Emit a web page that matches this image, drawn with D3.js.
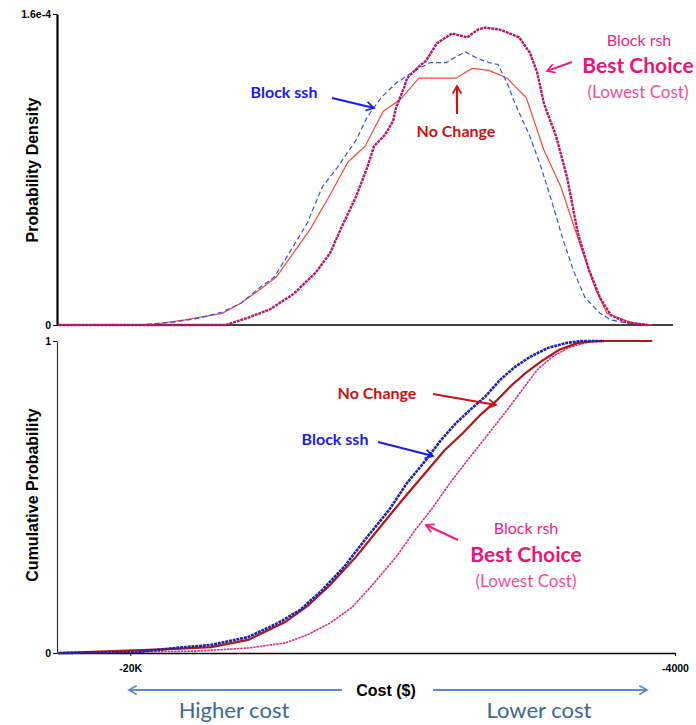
<!DOCTYPE html>
<html>
<head>
<meta charset="utf-8">
<script src="https://cdn.jsdelivr.net/npm/d3@7"></script>
<style>
  body { margin: 0; background: #fff; }
  svg { display: block; }
</style>
</head>
<body>
<div id="chart"></div>
<script>
// values: [cost ($), value]
var pdfRsh = [[-22100,0],[-19000,0],[-17200,0],[-16500,0.04e-4],[-15900,0.08e-4],[-15200,0.16e-4],
  [-14550,0.27e-4],[-14130,0.37e-4],[-13800,0.50e-4],[-13370,0.66e-4],[-13040,0.81e-4],[-12840,0.92e-4],
  [-12510,0.98e-4],[-12280,1.05e-4],[-12190,1.12e-4],[-11960,1.22e-4],[-11870,1.27e-4],[-11520,1.33e-4],
  [-11310,1.36e-4],[-10990,1.45e-4],[-10550,1.50e-4],[-10110,1.48e-4],[-9780,1.52e-4],[-9580,1.53e-4],
  [-9140,1.52e-4],[-8580,1.48e-4],[-8260,1.40e-4],[-8050,1.30e-4],[-7850,1.14e-4],[-7490,0.97e-4],
  [-7170,0.76e-4],[-6850,0.47e-4],[-6520,0.28e-4],[-6200,0.14e-4],[-5880,0.05e-4],[-5440,0.015e-4],[-4790,0]];

var pdfSsh = [[-22100,0],[-19800,0],[-18700,0.015e-4],[-17950,0.036e-4],[-17300,0.067e-4],[-16740,0.113e-4],
  [-16210,0.19e-4],[-15770,0.247e-4],[-15330,0.37e-4],[-14800,0.525e-4],[-14360,0.71e-4],[-13920,0.81e-4],
  [-13370,0.95e-4],[-13040,1.07e-4],[-12630,1.17e-4],[-12190,1.245e-4],[-11630,1.31e-4],[-11190,1.35e-4],
  [-10720,1.35e-4],[-10430,1.38e-4],[-10160,1.405e-4],[-9780,1.37e-4],[-9460,1.35e-4],[-9200,1.34e-4],
  [-8930,1.245e-4],[-8700,1.14e-4],[-8260,0.97e-4],[-7930,0.81e-4],[-7610,0.63e-4],[-7290,0.44e-4],
  [-6960,0.27e-4],[-6640,0.14e-4],[-6200,0.06e-4],[-5880,0.026e-4],[-5440,0.01e-4],[-4900,0]];

var pdfNoChange = [[-22100,0],[-19470,0],[-18390,0.026e-4],[-17300,0.06e-4],[-16740,0.113e-4],[-16210,0.18e-4],
  [-15710,0.247e-4],[-15210,0.37e-4],[-14690,0.50e-4],[-14130,0.67e-4],[-13600,0.84e-4],[-13100,0.92e-4],
  [-12570,1.10e-4],[-12070,1.16e-4],[-11520,1.27e-4],[-10430,1.27e-4],[-9960,1.32e-4],[-9460,1.31e-4],
  [-8930,1.27e-4],[-8370,1.17e-4],[-7850,0.90e-4],[-7350,0.71e-4],[-6760,0.40e-4],[-6320,0.18e-4],
  [-6000,0.06e-4],[-5640,0.036e-4],[-5230,0.01e-4],[-4670,0]];

var cdfSsh = [[-22100,0],[-19800,0.003],[-18700,0.016],[-17620,0.026],[-16540,0.051],[-15660,0.096],
  [-15010,0.138],[-14360,0.202],[-13720,0.276],[-13040,0.372],[-12400,0.458],[-11870,0.545],[-11310,0.619],
  [-10870,0.683],[-10430,0.737],[-10020,0.779],[-9580,0.821],[-9140,0.875],[-8700,0.917],[-8260,0.949],
  [-7730,0.978],[-7170,0.994],[-6760,1],[-6080,1]];

var cdfNoChange = [[-22100,0],[-18700,0.013],[-17620,0.019],[-16540,0.042],[-15450,0.099],[-14800,0.150],
  [-14130,0.218],[-13370,0.308],[-12630,0.408],[-11960,0.497],[-11310,0.580],[-10780,0.648],[-10220,0.706],
  [-9700,0.765],[-9250,0.808],[-8810,0.857],[-8370,0.899],[-7930,0.935],[-7400,0.972],[-6850,0.994],
  [-6320,1],[-5640,1],[-4670,1]];

var cdfRsh = [[-22100,0],[-18060,0.006],[-16540,0.016],[-15450,0.032],[-14800,0.058],[-14130,0.096],
  [-13480,0.147],[-12840,0.224],[-12190,0.308],[-11630,0.394],[-11100,0.468],[-10550,0.554],[-10020,0.628],
  [-9460,0.705],[-8930,0.779],[-8490,0.843],[-8050,0.907],[-7610,0.949],[-7080,0.981],[-6520,0.997],
  [-5880,1],[-4670,1]];

var xTicks = [-20000, -4000];
var xTickLabels = ["-20K", "-4000"];

var W = 696, H = 725;
var svg = d3.select("#chart").append("svg").attr("width", W).attr("height", H);

var defs = svg.append("defs");
function marker(id, color) {
  defs.append("marker")
    .attr("id", id)
    .attr("viewBox", "0 0 10 10")
    .attr("refX", 8).attr("refY", 5)
    .attr("markerWidth", 5).attr("markerHeight", 5)
    .attr("markerUnits", "strokeWidth")
    .attr("orient", "auto")
    .append("path")
      .attr("d", "M1,1 L8,5 L1,9")
      .attr("fill", "none")
      .attr("stroke", color)
      .attr("stroke-width", 1.6);
}
marker("arBlue", "#1a1af0");
marker("arRed", "#cc1111");
marker("arPink", "#ee1f80");
marker("arSteel", "#5b8cc8");

// x scale shared by both panels
var x = d3.scaleLinear().domain([-22150, -4000]).range([57, 675]);

// top panel: probability density
var yTop = d3.scaleLinear().domain([0, 1.6e-4]).range([325, 14]);
// bottom panel: cumulative probability
var yBot = d3.scaleLinear().domain([0, 1]).range([653, 341]);

var lineTop = d3.line().x(function(d) { return x(d[0]); }).y(function(d) { return yTop(d[1]); });
var lineBot = d3.line().x(function(d) { return x(d[0]); }).y(function(d) { return yBot(d[1]); });

var bold = "Liberation Sans, Arial, sans-serif";

// top axes
svg.append("g")
  .attr("transform", "translate(0,325)")
  .call(d3.axisBottom(x).tickValues([]).tickSizeOuter(0))
  .call(function(g) { g.select(".domain").attr("stroke", "#000").attr("stroke-width", 1.5)
    .attr("d", "M57,0H673"); });

svg.append("g")
  .attr("transform", "translate(57,0)")
  .call(d3.axisLeft(yTop).tickValues([0, 1.6e-4]).tickSize(4).tickSizeOuter(0).tickPadding(2)
    .tickFormat(function(d) { return d === 0 ? "0" : "1.6e-4"; }))
  .call(function(g) {
    g.select(".domain").attr("stroke", "#000").attr("stroke-width", 2.2);
    g.selectAll("text").attr("font-family", bold)
      .attr("font-weight", "bold").attr("font-size", 10.5).attr("fill", "#000");
  });

// bottom axes
svg.append("g")
  .attr("transform", "translate(0,653)")
  .call(d3.axisBottom(x).tickValues(xTicks).tickSize(3).tickSizeOuter(0).tickPadding(9)
    .tickFormat(function(d, i) { return xTickLabels[i]; }))
  .call(function(g) {
    g.select(".domain").attr("stroke", "#000").attr("stroke-width", 1.5);
    g.selectAll("text").attr("font-family", bold)
      .attr("font-weight", "bold").attr("font-size", 10.5).attr("fill", "#000");
  });

svg.append("g")
  .attr("transform", "translate(57,0)")
  .call(d3.axisLeft(yBot).tickValues([0, 1]).tickSize(4).tickSizeOuter(0).tickPadding(2)
    .tickFormat(d3.format("d")))
  .call(function(g) {
    g.select(".domain").attr("stroke", "#333").attr("stroke-width", 1.2);
    g.selectAll("text").attr("font-family", bold)
      .attr("font-weight", "bold").attr("font-size", 10.5).attr("fill", "#000");
  });

// density curves
svg.append("path").datum(pdfNoChange).attr("d", lineTop)
  .attr("fill", "none").attr("stroke", "#f04a3a").attr("stroke-width", 1.2);
svg.append("path").datum(pdfSsh).attr("d", lineTop)
  .attr("fill", "none").attr("stroke", "#3a4fe0").attr("stroke-width", 1.2)
  .attr("stroke-dasharray", "5,3");
svg.append("path").datum(pdfRsh).attr("d", lineTop)
  .attr("fill", "none").attr("stroke", "#b3186c").attr("stroke-width", 2.4)
  .attr("stroke-dasharray", "3,0.8");

// cumulative curves
svg.append("path").datum(cdfRsh).attr("d", lineBot)
  .attr("fill", "none").attr("stroke", "#d22e8a").attr("stroke-width", 1.6)
  .attr("stroke-dasharray", "2.5,0.8");
svg.append("path").datum(cdfNoChange).attr("d", lineBot)
  .attr("fill", "none").attr("stroke", "#b01818").attr("stroke-width", 2.2);
svg.append("path").datum(cdfSsh).attr("d", lineBot)
  .attr("fill", "none").attr("stroke", "#1d22a8").attr("stroke-width", 2.6)
  .attr("stroke-dasharray", "3,0.8");

// axis titles
svg.append("text")
  .attr("transform", "translate(38,170) rotate(-90)")
  .attr("text-anchor", "middle")
  .attr("font-family", bold).attr("font-weight", "bold").attr("font-size", 16)
  .text("Probability Density");
svg.append("text")
  .attr("transform", "translate(38,495) rotate(-90)")
  .attr("text-anchor", "middle")
  .attr("font-family", bold).attr("font-weight", "bold").attr("font-size", 16)
  .text("Cumulative Probability");
svg.append("text")
  .attr("x", 386).attr("y", 696)
  .attr("text-anchor", "middle")
  .attr("font-family", bold).attr("font-weight", "bold").attr("font-size", 16)
  .text("Cost ($)");

// higher / lower cost arrows
svg.append("line").attr("x1", 342).attr("y1", 690).attr("x2", 129).attr("y2", 690)
  .attr("stroke", "#5b8cc8").attr("stroke-width", 2.2).attr("marker-end", "url(#arSteel)");
svg.append("line").attr("x1", 433).attr("y1", 690).attr("x2", 647).attr("y2", 690)
  .attr("stroke", "#5b8cc8").attr("stroke-width", 2.2).attr("marker-end", "url(#arSteel)");
svg.append("text").attr("x", 234).attr("y", 718).attr("text-anchor", "middle")
  .attr("font-family", "Lato, sans-serif").attr("font-size", 22).attr("fill", "#3a689a")
  .text("Higher cost");
svg.append("text").attr("x", 539).attr("y", 718).attr("text-anchor", "middle")
  .attr("font-family", "Lato, sans-serif").attr("font-size", 22).attr("fill", "#3a689a")
  .text("Lower cost");

// annotations
function label(tx, ty, txt, color, size, weight) {
  svg.append("text").attr("x", tx).attr("y", ty).attr("text-anchor", "middle")
    .attr("font-family", "Lato, sans-serif").attr("font-size", size)
    .attr("font-weight", weight || "normal").attr("fill", color).text(txt);
}
function arrow(x1, y1, x2, y2, color, id) {
  svg.append("line").attr("x1", x1).attr("y1", y1).attr("x2", x2).attr("y2", y2)
    .attr("stroke", color).attr("stroke-width", 2.2).attr("marker-end", "url(#" + id + ")");
}

// top panel
label(284, 98, "Block ssh", "#1a1af0", 16, "bold");
arrow(332, 98, 374, 108, "#1a1af0", "arBlue");
label(456, 137, "No Change", "#cc1111", 16, "bold");
arrow(457, 114, 457, 86, "#cc1111", "arRed");
label(639, 46, "Block rsh", "#ee1f80", 16, "normal");
label(638, 73, "Best Choice", "#e8157a", 21, "bold");
label(638, 98, "(Lowest Cost)", "#ee4f98", 17, "normal");
arrow(572, 62, 547, 71, "#ee1f80", "arPink");

// bottom panel
label(377, 399, "No Change", "#cc1111", 16, "bold");
arrow(433, 394, 496, 405, "#cc1111", "arRed");
label(335, 445, "Block ssh", "#1a1af0", 16, "bold");
arrow(378, 442, 433, 456, "#1a1af0", "arBlue");
label(526, 534, "Block rsh", "#ee1f80", 16, "normal");
label(526, 562, "Best Choice", "#e8157a", 21, "bold");
label(526, 587, "(Lowest Cost)", "#ee4f98", 17, "normal");
arrow(458, 540, 426, 525, "#ee1f80", "arPink");
</script>
</body>
</html>
